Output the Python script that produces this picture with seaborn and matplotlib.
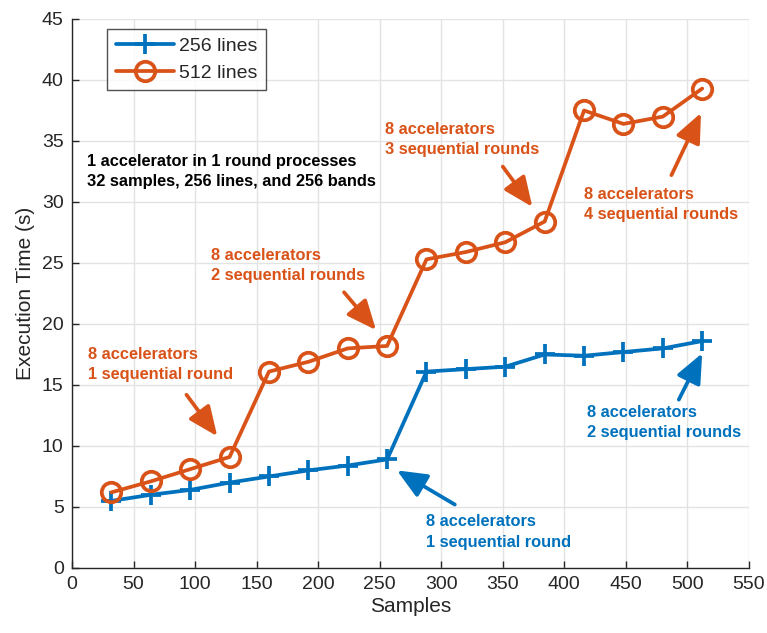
import matplotlib
matplotlib.use("Agg")
import matplotlib.pyplot as plt
import seaborn as sns
import pandas as pd

samples = [32, 64, 96, 128, 160, 192, 224, 256, 288, 320, 352, 384, 416, 448, 480, 512]
time_256 = [5.5, 6.0, 6.4, 7.0, 7.5, 8.0, 8.4, 8.9, 16.1, 16.3, 16.5, 17.5, 17.4, 17.7, 18.0, 18.6]
time_512 = [6.2, 7.1, 8.1, 9.1, 16.1, 16.9, 18.0, 18.2, 25.3, 25.9, 26.7, 28.4, 37.5, 36.4, 37.0, 39.3]
series_labels = ["256 lines", "512 lines"]
x_ticks = list(range(0, 551, 50))
y_ticks = list(range(0, 46, 5))

BLUE = "#0072BD"
ORANGE = "#D95319"
DARK = "#262626"

sns.set_theme(style="white")
plt.rcParams["font.family"] = ["Liberation Sans", "DejaVu Sans"]

fig = plt.figure(figsize=(7.67, 6.33), dpi=100)
ax = fig.add_axes([0.0939, 0.1027, 0.8826, 0.8673])

df = pd.DataFrame({"Samples": samples, "t256": time_256, "t512": time_512})

sns.lineplot(data=df, x="Samples", y="t256", ax=ax, color=BLUE, lw=2.7,
             marker="+", markersize=14, markeredgewidth=2.7,
             markeredgecolor=BLUE, label=series_labels[0], zorder=3)
sns.lineplot(data=df, x="Samples", y="t512", ax=ax, color=ORANGE, lw=2.7,
             marker="o", markersize=14, markeredgewidth=2.7,
             markeredgecolor=ORANGE, markerfacecolor="none",
             label=series_labels[1], zorder=3)

ax.set_xlim(0, 550)
ax.set_ylim(0, 45)
ax.set_xticks(x_ticks)
ax.set_yticks(y_ticks)
ax.grid(True, color="#E3E3E3", lw=1.0)
ax.set_axisbelow(True)
for s in ["top", "right"]:
    ax.spines[s].set_visible(False)
for s in ["left", "bottom"]:
    ax.spines[s].set_color(DARK)
    ax.spines[s].set_linewidth(1.0)
ax.tick_params(direction="in", length=5, width=1.0, colors=DARK,
               labelsize=14, left=True, bottom=True, pad=6)
ax.set_xlabel("Samples", fontsize=15, color=DARK, labelpad=3)
ax.set_ylabel("Execution Time (s)", fontsize=15, color=DARK, labelpad=5)

leg = ax.legend(loc="upper left", bbox_to_anchor=(0.052, 0.982), fontsize=14,
                frameon=True, fancybox=False, edgecolor=DARK,
                handlelength=3.0, borderpad=0.45, labelspacing=0.45,
                handletextpad=0.25, borderaxespad=0)
leg.get_frame().set_linewidth(1.0)

ann_kw = dict(fontsize=11.8, fontweight="bold", va="center", ha="left",
              linespacing=1.42)

ax.text(12, 32.5, "1 accelerator in 1 round processes\n32 samples, 256 lines, and 256 bands",
        color="black", **ann_kw)


def callout(text, txt_xy, tail, head, color):
    ax.text(txt_xy[0], txt_xy[1], text, color=color, **ann_kw)
    ax.annotate("", xy=head, xytext=tail,
                arrowprops=dict(arrowstyle="-|>,head_length=1.5,head_width=0.65",
                                color=color, lw=2.7, shrinkA=0, shrinkB=0))


callout("8 accelerators\n1 sequential round", (13, 16.7), (93, 14.2), (118, 10.8), ORANGE)
callout("8 accelerators\n2 sequential rounds", (113, 24.8), (221, 22.6), (247, 19.5), ORANGE)
callout("8 accelerators\n3 sequential rounds", (254, 35.1), (350, 32.9), (374, 29.6), ORANGE)
callout("8 accelerators\n4 sequential rounds", (416, 29.8), (487, 32.2), (511, 37.3), ORANGE)
callout("8 accelerators\n2 sequential rounds", (418, 11.9), (493, 13.8), (512, 17.6), BLUE)
callout("8 accelerators\n1 sequential round", (288, 2.95), (311, 5.2), (264, 8.0), BLUE)

fig.savefig("out.png", dpi=100)
